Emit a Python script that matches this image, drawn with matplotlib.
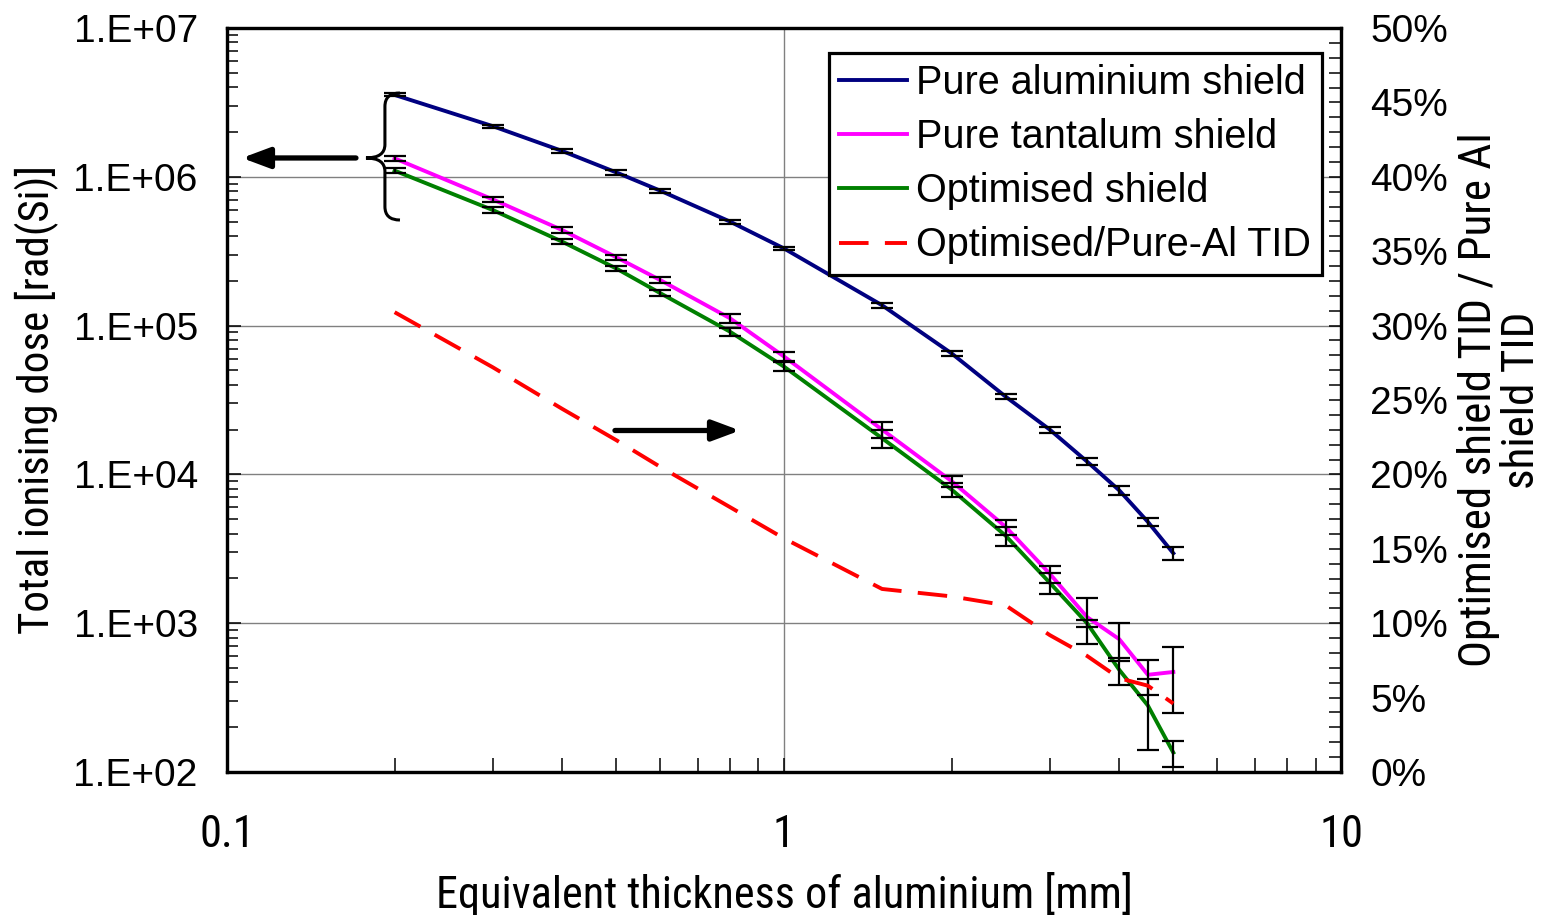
import matplotlib
matplotlib.use("Agg")
import matplotlib.pyplot as plt
import numpy as np
from matplotlib import font_manager
from matplotlib.font_manager import FontProperties
from matplotlib.path import Path
from matplotlib.patches import PathPatch
from matplotlib.ticker import FuncFormatter, FixedLocator, LogLocator, MultipleLocator, NullFormatter

# thickness of aluminium [mm]
thickness = [0.2, 0.3, 0.4, 0.5, 0.6, 0.8, 1.0, 1.5, 2.0, 2.5, 3.0, 3.5, 4.0, 4.5, 5.0]

# total ionising dose [rad(Si)]
pure_al = [3.55e6, 2.19e6, 1.49e6, 1.07e6, 8.06e5, 5.0e5, 3.3e5, 1.37e5, 6.5e4,
           3.33e4, 2.0e4, 1.22e4, 7.8e3, 4.8e3, 2.95e3]
pure_al_err = [8e4, 5e4, 5e4, 4e4, 2.5e4, 1.5e4, 1e4, 5e3, 2.5e3,
               1.2e3, 9e2, 7e2, 5e2, 3e2, 2.8e2]

pure_ta = [1.33e6, 7.05e5, 4.38e5, 2.88e5, 2.02e5, 1.12e5, 6.2e4, 2.0e4, 9.0e3,
           4.44e3, 2.15e3, 1.1e3, 7.8e2, 4.5e2, 4.7e2]
pure_ta_err = [5e4, 3e4, 2e4, 1.2e4, 1e4, 8e3, 4e3, 2.5e3, 8e2,
               5e2, 2.8e2, 3.7e2, 2.2e2, 1.2e2, 2.2e2]

optimised = [1.10e6, 5.98e5, 3.66e5, 2.42e5, 1.65e5, 9.1e4, 5.3e4, 1.75e4, 7.9e3,
             3.87e3, 1.87e3, 1.0e3, 4.85e2, 2.8e2, 1.35e2]
optimised_err = [4e4, 2.5e4, 1.5e4, 1e4, 8e3, 6e3, 3.5e3, 2.5e3, 8e2,
                 5.5e2, 3e2, 5e1, 1.0e2, 1.4e2, 2.7e1]

# optimised / pure-Al TID ratio [%]
ratio_pct = [30.9, 27.2, 24.4, 22.3, 20.5, 17.8, 15.7, 12.3, 11.8, 11.2, 9.2, 7.8, 6.3, 5.8, 4.6]

x_tick_values = [0.1, 1, 10]
x_tick_labels = ["0.1", "1", "10"]

plt.rcParams["font.family"] = ["Liberation Sans", "DejaVu Sans"]

# the original uses a narrow face for axis titles; use one if installed
narrow_fp = None
for f in font_manager.fontManager.ttflist:
    if f.name in ("Liberation Sans Narrow", "Arial Narrow", "Roboto Condensed") \
            and f.style == "normal" and f.weight in (400, "normal", "regular"):
        narrow_fp = f.fname
        break
if narrow_fp:
    def narrow(size):
        return FontProperties(fname=narrow_fp, size=size)
    XLABEL_SIZE, YLABEL_SIZE, RLABEL_SIZE, XTICK_SIZE = 31.9, 31, 32.5, 32
else:
    def narrow(size):
        return FontProperties(family=["Liberation Sans", "DejaVu Sans"], size=size)
    XLABEL_SIZE, YLABEL_SIZE, RLABEL_SIZE, XTICK_SIZE = 28, 27, 29, 28

fig = plt.figure(figsize=(15.46, 9.15), dpi=100)
fig.subplots_adjust(left=0.1468, right=0.8674, bottom=0.1563, top=0.9694)
ax = fig.add_subplot(111)
ax2 = ax.twinx()

ax.set_xscale("log")
ax.set_yscale("log")
ax.set_xlim(0.1, 10)
ax.set_ylim(1e2, 1e7)
ax2.set_ylim(0, 0.5)

ax.grid(True, which="major", color="#808080", lw=1.0)
ax.set_axisbelow(True)

LW = 2.8
(l_al,) = ax.plot(thickness, pure_al, color="#000080", lw=LW, zorder=2,
                  label="Pure aluminium shield")
(l_ta,) = ax.plot(thickness, pure_ta, color="#FF00FF", lw=LW, zorder=2,
                  label="Pure tantalum shield")
(l_opt,) = ax.plot(thickness, optimised, color="#008000", lw=LW, zorder=2,
                   label="Optimised shield")
for vals, errs in [(pure_al, pure_al_err), (pure_ta, pure_ta_err), (optimised, optimised_err)]:
    ax.errorbar(thickness, vals, yerr=errs, fmt="none", ecolor="black",
                elinewidth=1.6, capsize=8, capthick=1.6, zorder=3)

ratio = np.array(ratio_pct) / 100.0
(l_ratio,) = ax2.plot(thickness, ratio, color="#FF0000", lw=LW,
                      dashes=(7.6, 4.2), label="Optimised/Pure-Al TID")

# ticks
ax.xaxis.set_major_locator(FixedLocator(x_tick_values))
ax.xaxis.set_major_formatter(FuncFormatter(lambda v, p: x_tick_labels[x_tick_values.index(v)]
                                           if v in x_tick_values else ""))
ax.xaxis.set_minor_locator(LogLocator(base=10, subs=np.arange(2, 10)))
ax.xaxis.set_minor_formatter(NullFormatter())
ax.yaxis.set_major_locator(LogLocator(base=10, numticks=10))
ax.yaxis.set_major_formatter(FuncFormatter(lambda v, p: "1.E+%02d" % int(round(np.log10(v)))))
ax.yaxis.set_minor_locator(LogLocator(base=10, subs=np.arange(2, 10), numticks=10))
ax.yaxis.set_minor_formatter(NullFormatter())

ax2.yaxis.set_major_locator(MultipleLocator(0.05))
ax2.yaxis.set_minor_locator(MultipleLocator(0.01))
ax2.yaxis.set_major_formatter(FuncFormatter(lambda v, p: "%d%%" % int(round(v * 100))))

ax.tick_params(axis="both", which="both", direction="in", top=False, right=False, width=1.1)
ax.tick_params(axis="y", which="major", length=10, pad=21, labelsize=28)
ax.tick_params(axis="y", which="minor", length=8)
ax.tick_params(axis="x", which="major", length=10, pad=30)
ax.tick_params(axis="x", which="minor", length=10)
for lab in ax.get_xticklabels():
    lab.set_fontproperties(narrow(XTICK_SIZE))
ax2.tick_params(axis="y", which="both", direction="in", width=1.1, length=9)
ax2.tick_params(axis="y", which="major", pad=21, labelsize=28)

for a in (ax, ax2):
    for sp in a.spines.values():
        sp.set_linewidth(2.3)
        sp.set_color("black")

ax.set_xlabel("Equivalent thickness of aluminium [mm]", fontproperties=narrow(XLABEL_SIZE))
ax.xaxis.set_label_coords(0.5, -0.134)
ax.set_ylabel("Total ionising dose [rad(Si)]", fontproperties=narrow(YLABEL_SIZE))
ax.yaxis.set_label_coords(-0.151, 0.5)
ax2.text(1.1425, 0.5, "Optimised shield TID / Pure Al\nshield TID", transform=ax2.transAxes,
         rotation=90, ha="center", va="center", multialignment="center",
         fontproperties=narrow(RLABEL_SIZE), linespacing=1.02)

# brace grouping the three dose curves
tx, sx, ex = 0.1248, 0.1418, 0.1553
ytop, ytip, ybot = 0.9126, 0.8253, 0.7419
r = 0.018
verts = [(ex, ytop), (sx, ytop), (sx, ytop - r), (sx, ytip + r), (sx, ytip), (tx, ytip),
         (sx, ytip), (sx, ytip - r), (sx, ybot + r), (sx, ybot), (ex, ybot)]
codes = [Path.MOVETO, Path.CURVE3, Path.CURVE3, Path.LINETO, Path.CURVE3, Path.CURVE3,
         Path.CURVE3, Path.CURVE3, Path.LINETO, Path.CURVE3, Path.CURVE3]
ax.add_patch(PathPatch(Path(verts, codes), transform=ax.transAxes, fill=False,
                       lw=2.2, edgecolor="black", clip_on=False, zorder=4))

arrow = dict(arrowstyle="-|>,head_length=0.75,head_width=0.28", lw=3.8, color="black",
             shrinkA=0, shrinkB=0, mutation_scale=22)
ax.annotate("", xy=(0.0135, 0.8253), xytext=(0.1158, 0.8253), xycoords="axes fraction",
            arrowprops=arrow, annotation_clip=False)
ax.annotate("", xy=(0.4605, 0.459), xytext=(0.3483, 0.459), xycoords="axes fraction",
            arrowprops=arrow)

leg = ax2.legend(handles=[l_al, l_ta, l_opt, l_ratio], loc="upper right",
                 bbox_to_anchor=(0.983, 0.9664), borderaxespad=0, fontsize=28.5,
                 frameon=True, fancybox=False, framealpha=1, edgecolor="black",
                 handlelength=1.7, handletextpad=0.25, labelspacing=0.41,
                 borderpad=0.27)
leg.get_frame().set_linewidth(2.3)

fig.savefig("out.png", dpi=100)
